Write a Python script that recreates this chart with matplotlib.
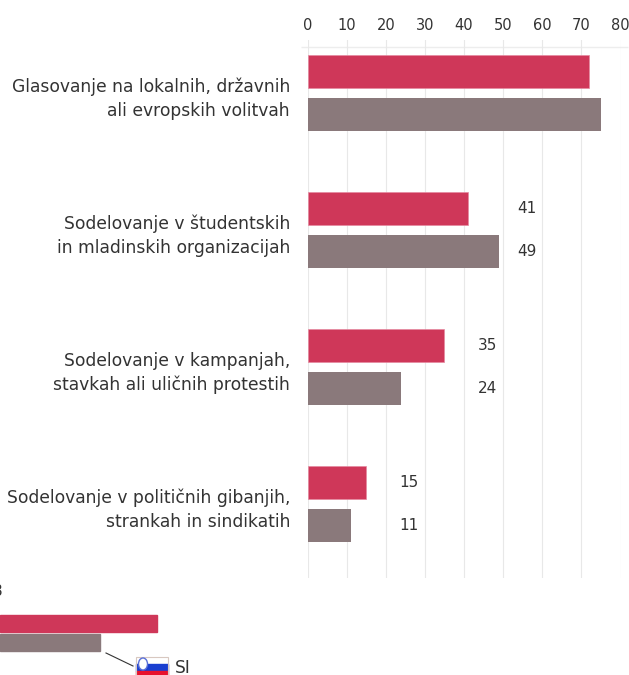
import matplotlib
matplotlib.use("agg")
import matplotlib.pyplot as plt
from matplotlib.patches import Rectangle, Ellipse

categories = [
    "Glasovanje na lokalnih, državnih\nali evropskih volitvah",
    "Sodelovanje v študentskih\nin mladinskih organizacijah",
    "Sodelovanje v kampanjah,\nstavkah ali uličnih protestih",
    "Sodelovanje v političnih gibanjih,\nstrankah in sindikatih",
]
pink_values = [72, 41, 35, 15]
gray_values = [75, 49, 24, 11]
x_ticks = [0, 10, 20, 30, 40, 50, 60, 70, 80]

# only these groups have printed values, in the column where they sit
label_groups = [1, 2, 3]
label_columns = [56, 46, 26]

# the cut off legend at the bottom, widths in pixels from the left edge
legend_widths = [157, 100]

PINK = "#CF3759"
GRAY = "#8A797B"
TEXT = "#333333"
GRID = "#E8E8E8"

W, H = 629, 675
plt.rcParams['font.family'] = ["DejaVu Sans"]
fig = plt.figure(figsize=(W / 100, H / 100), dpi=100)

# main chart, placed in pixels
left, right, top, bottom = 307.5, 620.5, 40, 578
ax = fig.add_axes([left / W, 1 - bottom / H, (right - left) / W, (bottom - top) / H])
ax.set_xlim(0, 80)
ax.set_ylim(3.54, -0.387)

for i in range(len(categories)):
    ax.barh(i - 0.155, pink_values[i], height=0.24, color=PINK, edgecolor="#E58AA0", linewidth=0.5, zorder=3)
    ax.barh(i + 0.155, gray_values[i], height=0.24, color=GRAY, zorder=3)
    # category labels sit a bit lower than the group centre
    ax.annotate(categories[i], xy=(0, i), xytext=(-12.6, -4.2), textcoords="offset points",
                ha="right", va="center", multialignment="right", fontsize=12.35,
                color=TEXT, linespacing=1.38, annotation_clip=False)

for g, col in zip(label_groups, label_columns):
    ax.text(col, g - 0.155, str(pink_values[g]), ha="center", va="center", fontsize=11, color=TEXT)
    ax.text(col, g + 0.155, str(gray_values[g]), ha="center", va="center", fontsize=11, color=TEXT)

ax.xaxis.tick_top()
ax.set_xticks(x_ticks)
ax.tick_params(axis="x", length=0, pad=5, labelsize=10.5, labelcolor=TEXT)
ax.set_yticks([])
ax.grid(True, axis="x", color=GRID, linewidth=0.8, zorder=0)
ax.hlines(-0.336, -1.6, 82, color="#EDEDED", linewidth=1, clip_on=False, zorder=1)
for s in ax.spines.values():
    s.set_visible(False)

# overlay in pixel coordinates for the legend
ov = fig.add_axes([0, 0, 1, 1], facecolor="none")
ov.set_xlim(0, W)
ov.set_ylim(H, 0)
ov.axis("off")

ov.add_patch(Rectangle((0, 615), legend_widths[0], 17, color=PINK))
ov.add_patch(Rectangle((0, 634), legend_widths[1], 17, color=GRAY))
ov.text(3, 592, "8", ha="right", va="center", fontsize=11, color=TEXT)
ov.plot([106, 133], [653, 666], color="#333333", linewidth=0.8)

# flag
ov.add_patch(Rectangle((136, 656.5), 32, 7.5, color="white"))
ov.add_patch(Rectangle((136, 664), 32, 7, color="#1A3FD0"))
ov.add_patch(Rectangle((136, 671), 32, 4, color="#E8112D"))
ov.add_patch(Rectangle((136, 656.5), 32, 19, fill=False, edgecolor="#D8C8C0", linewidth=0.8))
ov.add_patch(Ellipse((143, 664), 9, 12, facecolor="white", edgecolor="#5A70D8", linewidth=1))
ov.text(175, 668, "SI", ha="left", va="center", fontsize=12.3, color=TEXT)

plt.savefig("out.png", dpi=100)
